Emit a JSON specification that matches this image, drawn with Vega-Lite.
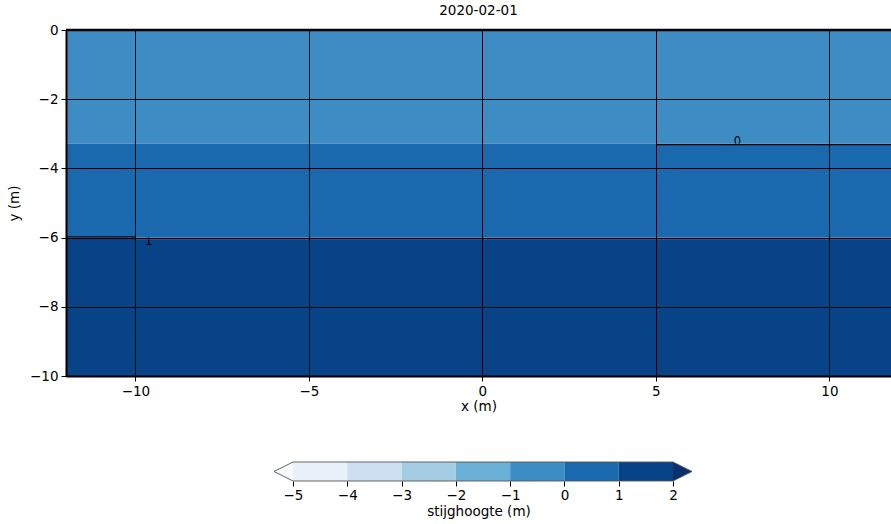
{
  "$schema": "https://vega.github.io/schema/vega-lite/v6.json",
  "padding": {"left": 7, "top": 3, "right": 0, "bottom": 6},
  "background": "white",
  "spacing": 47,
  "config": {
    "font": "DejaVu Sans",
    "axis": {"labelFont": "DejaVu Sans", "titleFont": "DejaVu Sans", "labelFontSize": 13.5, "titleFontSize": 13.5, "titleFontWeight": "normal", "labelColor": "#000", "titleColor": "#000", "tickColor": "#000", "domainColor": "#000"},
    "title": {"font": "DejaVu Sans", "fontSize": 13.5, "fontWeight": "normal", "color": "#000"},
    "view": {"stroke": null}
  },
  "datasets": {
    "bands": [
      {"x1": -13, "x2": 13, "y1": 0, "y2": -3.28, "h": -0.5, "part": "top"},
      {"x1": -13, "x2": 13, "y1": -3.28, "y2": -6.0, "h": 0.5, "part": "mid"},
      {"x1": -13, "x2": 13, "y1": -6.0, "y2": -10, "h": 1.5, "part": "bottom"}
    ],
    "labels": [
      {"x1": 7.35, "y1": -3.24, "label": "0"},
      {"x1": -9.62, "y1": -6.12, "label": "1"}
    ],
    "contours": [
      {"x1": 5, "x2": 13, "y1": -3.31, "level": 0},
      {"x1": -13, "x2": -10, "y1": -5.98, "level": 1}
    ],
    "edge": [{"x1": -10, "x2": 13, "y1": -6.03}],
    "frame": [{"x1": -13, "x2": 13, "y1": 0}],
    "cbins": [
      {"v": -5, "v2": -4, "h": -4.5},
      {"v": -4, "v2": -3, "h": -3.5},
      {"v": -3, "v2": -2, "h": -2.5},
      {"v": -2, "v2": -1, "h": -1.5},
      {"v": -1, "v2": 0, "h": -0.5},
      {"v": 0, "v2": 1, "h": 0.5},
      {"v": 1, "v2": 2, "h": 1.5}
    ],
    "ctri": [
      {"v": -5.35, "t": 0.5, "b": 0.5, "h": -5.5, "side": "under"},
      {"v": -5, "t": 1, "b": 0, "h": -5.5, "side": "under"},
      {"v": 2, "t": 1, "b": 0, "h": 2.5, "side": "over"},
      {"v": 2.35, "t": 0.5, "b": 0.5, "h": 2.5, "side": "over"}
    ],
    "coutline": [
      {"v": -5, "t": 1, "o": 0},
      {"v": -5.35, "t": 0.5, "o": 1},
      {"v": -5, "t": 0, "o": 2},
      {"v": 2, "t": 0, "o": 3},
      {"v": 2.35, "t": 0.5, "o": 4},
      {"v": 2, "t": 1, "o": 5},
      {"v": -5, "t": 1, "o": 6}
    ]
  },
  "vconcat": [
    {
      "width": 825,
      "height": 346,
      "title": {"text": "2020-02-01", "offset": 6},
      "encoding": {
        "x": {"field": "x1", "type": "quantitative", "title": "x (m)",
          "scale": {"domain": [-12, 11.775], "nice": false, "zero": false},
          "axis": {"values": [-10, -5, 0, 5, 10], "grid": true, "gridColor": "#000", "gridOpacity": 1, "gridWidth": 1, "domainWidth": 2, "tickSize": 5, "labelPadding": 3, "titlePadding": 2, "zindex": 1}},
        "y": {"field": "y1", "type": "quantitative", "title": "y (m)",
          "scale": {"domain": [-10, 0], "nice": false, "zero": false},
          "axis": {"values": [0, -2, -4, -6, -8, -10], "grid": true, "gridColor": "#000", "gridOpacity": 1, "gridWidth": 1, "domainWidth": 2, "tickSize": 5, "labelPadding": 3, "titlePadding": 8, "zindex": 1}}
      },
      "layer": [
        {
          "data": {"name": "bands"},
          "transform": [{"filter": "datum.part != 'mid'"}],
          "mark": {"type": "rect", "clip": true},
          "encoding": {
            "x2": {"field": "x2"},
            "y2": {"field": "y2"},
            "color": {"field": "h", "type": "quantitative", "legend": null,
              "scale": {"type": "threshold", "domain": [-5, -4, -3, -2, -1, 0, 1, 2], "range": ["#f7fbff", "#e9f2fa", "#cde0f1", "#a4cce3", "#6baed6", "#3d8dc4", "#1a68ae", "#084387", "#08306b"]}}
          }
        },
        {
          "data": {"name": "labels"},
          "mark": {"type": "text", "fontSize": 11.5, "color": "#000", "baseline": "middle", "align": "center", "font": "DejaVu Sans"},
          "encoding": {"text": {"field": "label"}}
        },
        {
          "data": {"name": "bands"},
          "transform": [{"filter": "datum.part == 'mid'"}],
          "mark": {"type": "rect", "clip": true},
          "encoding": {
            "x2": {"field": "x2"},
            "y2": {"field": "y2"},
            "color": {"field": "h", "type": "quantitative", "legend": null,
              "scale": {"type": "threshold", "domain": [-5, -4, -3, -2, -1, 0, 1, 2], "range": ["#f7fbff", "#e9f2fa", "#cde0f1", "#a4cce3", "#6baed6", "#3d8dc4", "#1a68ae", "#084387", "#08306b"]}}
          }
        },
        {
          "data": {"name": "edge"},
          "mark": {"type": "rule", "color": "#ffffff", "strokeWidth": 1, "opacity": 0.85, "clip": true},
          "encoding": {"x2": {"field": "x2"}}
        },
        {
          "data": {"name": "contours"},
          "mark": {"type": "rule", "color": "#000000", "strokeWidth": 1.2, "clip": true},
          "encoding": {"x2": {"field": "x2"}}
        },
        {
          "data": {"name": "frame"},
          "mark": {"type": "rule", "color": "#000000", "strokeWidth": 2.5, "clip": false},
          "encoding": {"x": {"datum": -12}, "x2": {"datum": 11.775}}
        }
      ]
    },
    {
      "width": 825,
      "height": 19,
      "encoding": {
        "x": {"field": "v", "type": "quantitative", "title": "stijghoogte (m)",
          "scale": {"domain": [-9.181, 6.015], "nice": false, "zero": false},
          "axis": {"values": [-5, -4, -3, -2, -1, 0, 1, 2], "grid": false, "domain": false, "tickSize": 5, "labelPadding": 2, "titlePadding": 3}}
      },
      "layer": [
        {
          "data": {"name": "cbins"},
          "mark": {"type": "rect"},
          "encoding": {
            "x2": {"field": "v2"},
            "y": {"datum": 0, "type": "quantitative", "scale": {"domain": [0, 1], "nice": false}, "axis": null},
            "y2": {"datum": 1},
            "color": {"field": "h", "type": "quantitative", "legend": null,
              "scale": {"type": "threshold", "domain": [-5, -4, -3, -2, -1, 0, 1, 2], "range": ["#f7fbff", "#e9f2fa", "#cde0f1", "#a4cce3", "#6baed6", "#3d8dc4", "#1a68ae", "#084387", "#08306b"]}}
          }
        },
        {
          "data": {"name": "ctri"},
          "mark": {"type": "area", "interpolate": "linear"},
          "encoding": {
            "y": {"field": "t", "type": "quantitative", "scale": {"domain": [0, 1], "nice": false}, "axis": null},
            "y2": {"field": "b"},
            "detail": {"field": "side"},
            "color": {"field": "h", "type": "quantitative", "legend": null,
              "scale": {"type": "threshold", "domain": [-5, -4, -3, -2, -1, 0, 1, 2], "range": ["#f7fbff", "#e9f2fa", "#cde0f1", "#a4cce3", "#6baed6", "#3d8dc4", "#1a68ae", "#084387", "#08306b"]}}
          }
        },
        {
          "data": {"name": "coutline"},
          "mark": {"type": "line", "color": "#555555", "strokeWidth": 0.9},
          "encoding": {
            "y": {"field": "t", "type": "quantitative", "scale": {"domain": [0, 1], "nice": false}, "axis": null},
            "order": {"field": "o"}
          }
        }
      ]
    }
  ]
}
